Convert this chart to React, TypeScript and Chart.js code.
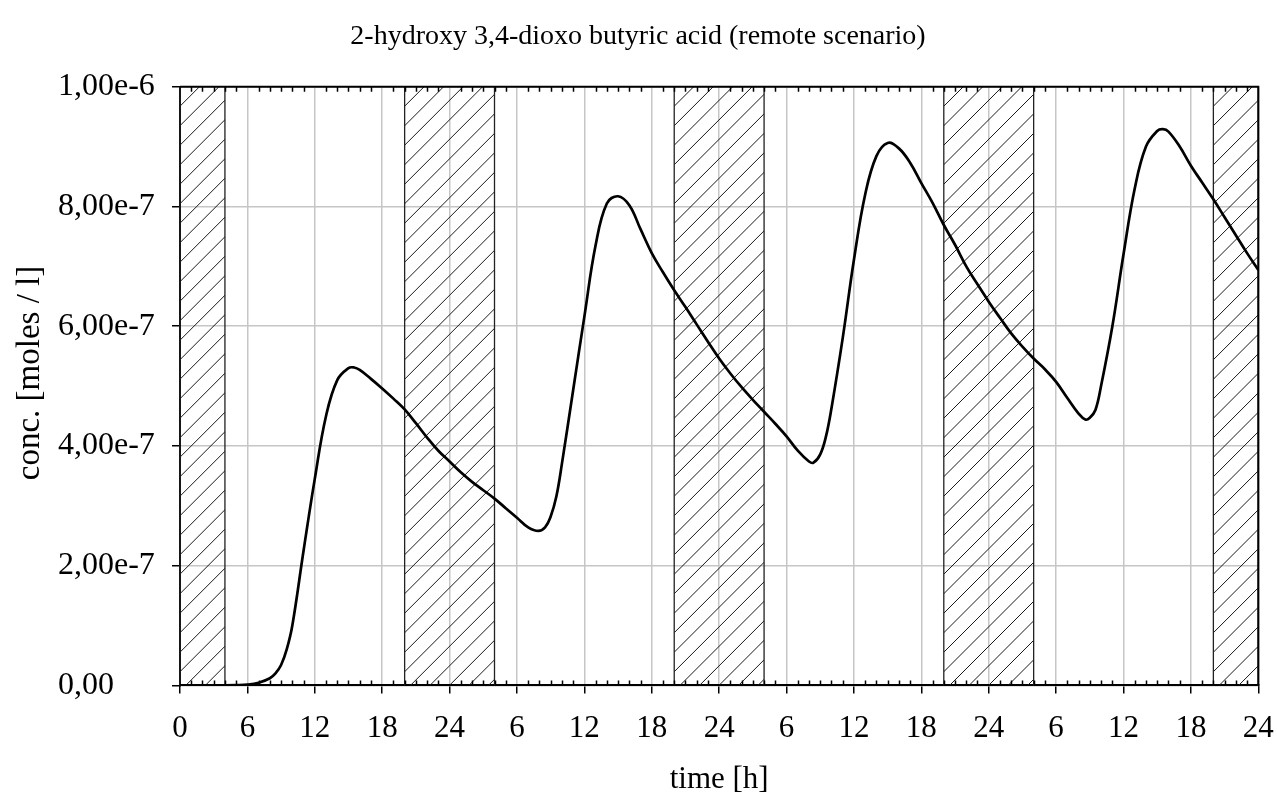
import { useEffect, useRef } from 'react';
import { Chart, registerables } from 'chart.js';

Chart.register(...registerables);

// Simulated concentration over four days (hours since start, moles per litre)
const HOURS = [
  0, 2, 4, 5, 6, 7, 8, 8.5, 9, 9.5, 10, 11, 12, 13, 14, 15, 15.5, 16, 17, 18, 19, 20,
  21, 22, 23, 24, 25, 26, 27, 28, 29, 30, 31, 31.9, 32.5, 33, 33.5, 34, 35, 36, 37, 38,
  39, 40, 41, 42, 43, 44, 45, 46, 47, 48, 49, 50, 51, 52, 53, 54, 55, 56, 56.4, 57,
  57.5, 58, 59, 60, 61, 62, 63, 64, 65, 66, 67, 68, 69, 70, 71, 72, 73, 74, 75, 76,
  77, 78, 79, 80, 80.6, 81, 81.5, 82, 83, 84, 85, 86, 87, 87.5, 88, 89, 90, 91, 92, 93,
  94, 95, 96,
];

const CONC = [
  0, 0, 0, 0.003e-7, 0.012e-7, 0.045e-7, 0.12e-7, 0.2e-7, 0.34e-7, 0.6e-7, 1.0e-7, 2.25e-7, 3.45e-7, 4.5e-7, 5.1e-7, 5.3e-7, 5.31e-7, 5.27e-7, 5.12e-7, 4.96e-7, 4.79e-7, 4.61e-7,
  4.38e-7, 4.14e-7, 3.92e-7, 3.74e-7, 3.56e-7, 3.4e-7, 3.26e-7, 3.12e-7, 2.96e-7, 2.8e-7, 2.64e-7, 2.58e-7, 2.64e-7, 2.82e-7, 3.15e-7, 3.7e-7, 4.93e-7, 6.16e-7, 7.35e-7, 8.05e-7,
  8.17e-7, 8.02e-7, 7.62e-7, 7.22e-7, 6.9e-7, 6.6e-7, 6.32e-7, 6.03e-7, 5.74e-7, 5.46e-7, 5.21e-7, 4.98e-7, 4.77e-7, 4.57e-7, 4.37e-7, 4.16e-7, 3.92e-7, 3.74e-7, 3.72e-7, 3.86e-7,
  4.15e-7, 4.63e-7, 5.8e-7, 7.11e-7, 8.2e-7, 8.84e-7, 9.06e-7, 8.97e-7, 8.73e-7, 8.39e-7, 8.06e-7, 7.69e-7, 7.36e-7, 7.0e-7, 6.7e-7, 6.41e-7, 6.14e-7, 5.88e-7, 5.66e-7, 5.46e-7,
  5.28e-7, 5.07e-7, 4.8e-7, 4.54e-7, 4.44e-7, 4.47e-7, 4.6e-7, 5.0e-7, 5.99e-7, 7.2e-7, 8.3e-7, 9.0e-7, 9.26e-7, 9.29e-7, 9.25e-7, 9.0e-7, 8.68e-7, 8.4e-7, 8.12e-7, 7.82e-7,
  7.52e-7, 7.22e-7, 6.94e-7,
];

// Night periods (hatched), in hours
const NIGHT_START = [0, 20, 44, 68, 92];
const NIGHT_END = [4, 28, 52, 76, 96];

const X_TICK_LABELS = ['0', '6', '12', '18', '24', '6', '12', '18', '24', '6', '12', '18', '24', '6', '12', '18', '24'];
const Y_TICK_LABELS = ['0,00', '2,00e-7', '4,00e-7', '6,00e-7', '8,00e-7', '1,00e-6'];

const TITLE = '2-hydroxy 3,4-dioxo butyric acid (remote scenario)';
const X_TITLE = 'time [h]';
const Y_TITLE = 'conc. [moles / l]';

const FONT = '"Liberation Serif", "Times New Roman", serif';

const nightHatch = {
  id: 'nightHatch',
  beforeDatasetsDraw(chart: any) {
    const { ctx, chartArea } = chart;
    const x = chart.scales.x;
    const top = chartArea.top;
    const bottom = chartArea.bottom;
    const h = bottom - top;
    const spacing = 19.5;
    NIGHT_START.forEach((start, i) => {
      const left = x.getPixelForValue(start);
      const right = x.getPixelForValue(NIGHT_END[i]);
      ctx.save();
      ctx.beginPath();
      ctx.rect(left, top, right - left, h);
      ctx.clip();
      ctx.strokeStyle = '#1a1a1a';
      ctx.lineWidth = 1;
      ctx.beginPath();
      for (let c = -h; c < right - left + spacing; c += spacing) {
        ctx.moveTo(left + c, bottom);
        ctx.lineTo(left + c + h, top);
      }
      ctx.stroke();
      ctx.restore();
      ctx.save();
      ctx.strokeStyle = '#222';
      ctx.lineWidth = 1.3;
      ctx.beginPath();
      ctx.moveTo(left, top);
      ctx.lineTo(left, bottom);
      ctx.moveTo(right, top);
      ctx.lineTo(right, bottom);
      ctx.stroke();
      ctx.restore();
    });
  },
};

const frameAndLabels = {
  id: 'frameAndLabels',
  afterDraw(chart: any) {
    const { ctx, chartArea } = chart;
    const x = chart.scales.x;
    ctx.save();
    // top and right frame
    ctx.strokeStyle = '#000';
    ctx.lineWidth = 2;
    ctx.beginPath();
    ctx.moveTo(chartArea.left, chartArea.top);
    ctx.lineTo(chartArea.right, chartArea.top);
    ctx.lineTo(chartArea.right, chartArea.bottom);
    ctx.stroke();
    // hourly minor ticks, pointing inward on bottom and top edges
    ctx.lineWidth = 1.5;
    ctx.beginPath();
    for (let hr = 1; hr < 96; hr++) {
      if (hr % 6 === 0) continue;
      const px = Math.round(x.getPixelForValue(hr)) + 0.5;
      ctx.moveTo(px, chartArea.bottom);
      ctx.lineTo(px, chartArea.bottom - 5);
      ctx.moveTo(px, chartArea.top);
      ctx.lineTo(px, chartArea.top + 5);
    }
    ctx.stroke();
    // chart title
    ctx.fillStyle = '#000';
    ctx.font = `28px ${FONT}`;
    ctx.textAlign = 'center';
    ctx.textBaseline = 'middle';
    ctx.fillText(TITLE, 638, 37);
    // vertical axis title
    ctx.font = `33px ${FONT}`;
    ctx.translate(30, 373);
    ctx.rotate(-Math.PI / 2);
    ctx.fillText(Y_TITLE, 0, 0);
    ctx.restore();
  },
};

export default function App() {
  const canvasRef = useRef<HTMLCanvasElement>(null);

  useEffect(() => {
    const canvas = canvasRef.current;
    if (!canvas) return;
    const chart = new Chart(canvas, {
      type: 'line',
      data: {
        datasets: [
          {
            data: HOURS.map((h, i) => ({ x: h, y: CONC[i] })),
            borderColor: '#000',
            borderWidth: 2.7,
            pointRadius: 0,
            fill: false,
            tension: 0.4,
          },
        ],
      },
      options: {
        animation: false,
        responsive: false,
        devicePixelRatio: 1,
        layout: { padding: { left: 58, right: 18.7, top: 86.7, bottom: 0 } },
        plugins: {
          legend: { display: false },
          tooltip: { enabled: false },
          title: { display: false },
        },
        scales: {
          x: {
            type: 'linear',
            min: 0,
            max: 96,
            afterFit: (s: any) => {
              s.height = 113.6;
            },
            ticks: {
              stepSize: 6,
              autoSkip: false,
              maxRotation: 0,
              color: '#000',
              padding: 3,
              font: { family: FONT, size: 31, lineHeight: 2.1 },
              callback: (_v: any, i: number) => X_TICK_LABELS[i],
            },
            grid: { color: '#c6c6c6', lineWidth: 1.5, tickLength: 8, tickColor: '#000', tickWidth: 1.5 },
            border: { color: '#000', width: 2 },
            title: {
              display: true,
              text: X_TITLE,
              color: '#000',
              font: { family: FONT, size: 31 },
              padding: { top: 0, bottom: 1 },
            },
          },
          y: {
            type: 'linear',
            min: 0,
            max: 1e-6,
            afterFit: (s: any) => {
              s.width = 122;
            },
            ticks: {
              stepSize: 2e-7,
              crossAlign: 'far',
              color: '#000',
              font: { family: FONT, size: 32 },
              callback: (_v: any, i: number) => Y_TICK_LABELS[i],
            },
            grid: { color: '#c6c6c6', lineWidth: 1.5, tickLength: 8, tickColor: '#000', tickWidth: 1.5 },
            border: { color: '#000', width: 2 },
          },
        },
      },
      plugins: [nightHatch, frameAndLabels],
    } as any);
    return () => chart.destroy();
  }, []);

  return (
    <div style={{ position: 'absolute', left: 0, top: 0, width: 1277, height: 799, background: '#fff' }}>
      <canvas ref={canvasRef} width={1277} height={799} />
    </div>
  );
}
